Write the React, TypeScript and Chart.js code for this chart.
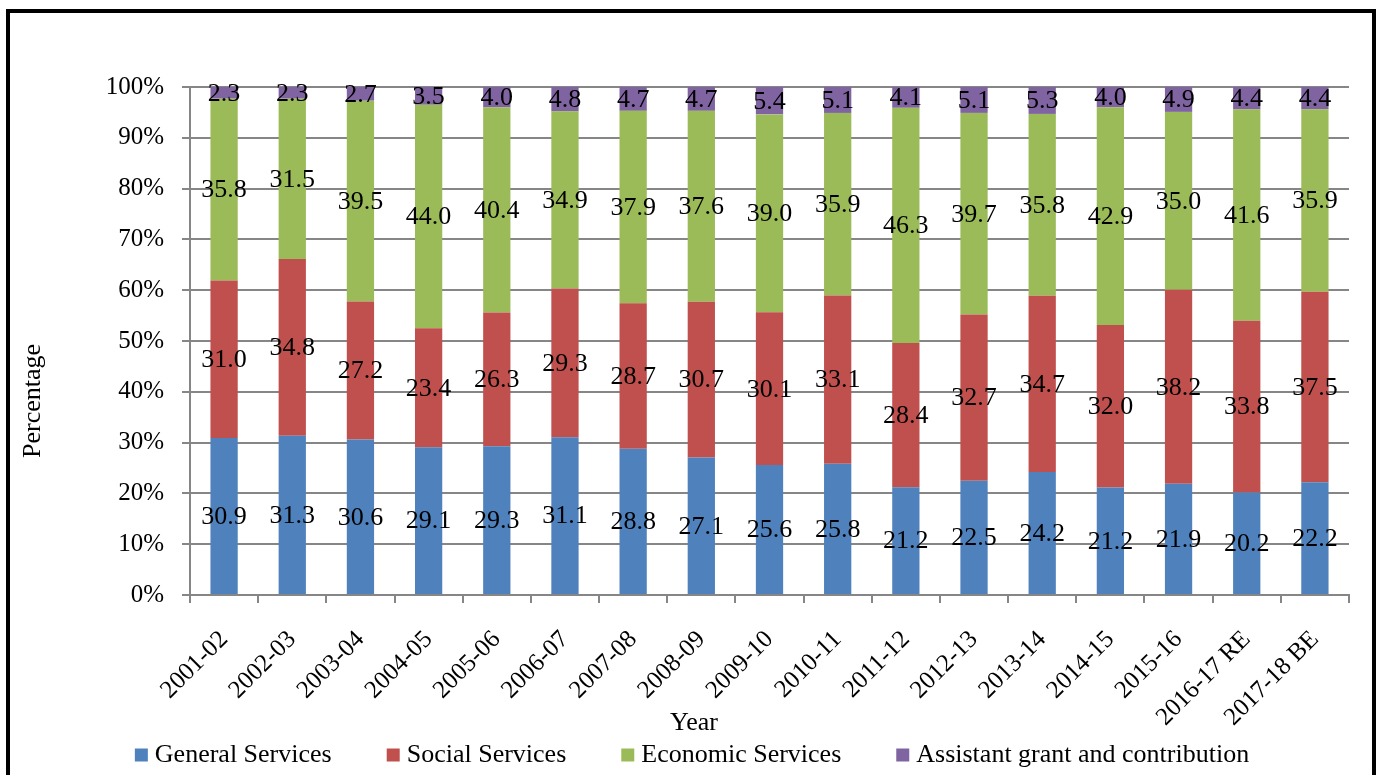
import React, { useEffect, useRef } from "react";
import { Chart, registerables } from "chart.js";

Chart.register(...registerables);

const years = [
  "2001-02", "2002-03", "2003-04", "2004-05", "2005-06", "2006-07", "2007-08", "2008-09", "2009-10",
  "2010-11", "2011-12", "2012-13", "2013-14", "2014-15", "2015-16", "2016-17 RE", "2017-18 BE",
];
const generalServices = [30.9, 31.3, 30.6, 29.1, 29.3, 31.1, 28.8, 27.1, 25.6, 25.8, 21.2, 22.5, 24.2, 21.2, 21.9, 20.2, 22.2];
const socialServices = [31.0, 34.8, 27.2, 23.4, 26.3, 29.3, 28.7, 30.7, 30.1, 33.1, 28.4, 32.7, 34.7, 32.0, 38.2, 33.8, 37.5];
const economicServices = [35.8, 31.5, 39.5, 44.0, 40.4, 34.9, 37.9, 37.6, 39.0, 35.9, 46.3, 39.7, 35.8, 42.9, 35.0, 41.6, 35.9];
const assistantGrant = [2.3, 2.3, 2.7, 3.5, 4.0, 4.8, 4.7, 4.7, 5.4, 5.1, 4.1, 5.1, 5.3, 4.0, 4.9, 4.4, 4.4];
const seriesNames = ["General Services", "Social Services", "Economic Services", "Assistant grant and contribution"];
const seriesColors = ["#4F81BD", "#C0504D", "#9BBB59", "#8064A2"];
const yTickValues = [0, 10, 20, 30, 40, 50, 60, 70, 80, 90, 100];

const SERIF = '"Liberation Serif", "Times New Roman", serif';

export default function App() {
  const canvasRef = useRef<HTMLCanvasElement | null>(null);

  useEffect(() => {
    const raw = [generalServices, socialServices, economicServices, assistantGrant];
    const totals = years.map((_, j) => raw.reduce((s, arr) => s + arr[j], 0));
    const datasets = raw.map((arr, i) => ({
      label: seriesNames[i],
      data: arr.map((v, j) => (v / totals[j]) * 100),
      backgroundColor: seriesColors[i],
      borderWidth: 0,
      categoryPercentage: 1,
      barPercentage: 0.4,
    }));

    const overlay = {
      id: "overlay",
      afterDatasetsDraw(chart: any) {
        const ctx = chart.ctx as CanvasRenderingContext2D;
        ctx.save();
        ctx.font = `26px ${SERIF}`;
        ctx.fillStyle = "#000";
        ctx.textAlign = "center";
        ctx.textBaseline = "middle";
        chart.data.datasets.forEach((_: any, i: number) => {
          const meta = chart.getDatasetMeta(i);
          meta.data.forEach((bar: any, j: number) => {
            const p = bar.getProps(["x", "y", "base"], true);
            ctx.fillText(raw[i][j].toFixed(1), p.x, (p.y + p.base) / 2 + 1);
          });
        });
        ctx.restore();
      },
      afterDraw(chart: any) {
        const ctx = chart.ctx as CanvasRenderingContext2D;
        ctx.save();
        ctx.fillStyle = "#000";
        ctx.font = `26px ${SERIF}`;
        // y title
        ctx.save();
        ctx.translate(33, 401);
        ctx.rotate(-Math.PI / 2);
        ctx.textAlign = "center";
        ctx.textBaseline = "middle";
        ctx.fillText("Percentage", 0, 0);
        ctx.restore();
        // x title
        ctx.textAlign = "center";
        ctx.textBaseline = "middle";
        ctx.fillText("Year", 694, 723);
        // legend
        const box = 13;
        const gapBox = 7;
        const gapItem = 55;
        const widths = seriesNames.map((n) => ctx.measureText(n).width);
        const total = widths.reduce((s, w) => s + w + box + gapBox, 0) + gapItem * (seriesNames.length - 1);
        let x = 692 - total / 2;
        const cy = 755;
        ctx.textAlign = "left";
        seriesNames.forEach((n, i) => {
          ctx.fillStyle = seriesColors[i];
          ctx.fillRect(x, cy - box / 2, box, box);
          ctx.fillStyle = "#000";
          ctx.fillText(n, x + box + gapBox, cy);
          x += box + gapBox + widths[i] + gapItem;
        });
        ctx.restore();
      },
    };

    const chart = new Chart(canvasRef.current as HTMLCanvasElement, {
      type: "bar",
      data: { labels: years, datasets },
      plugins: [overlay],
      options: {
        animation: false,
        responsive: false,
        maintainAspectRatio: false,
        layout: { padding: { top: 87, right: 28, bottom: 0, left: 0 } },
        plugins: {
          legend: { display: false },
          tooltip: { enabled: false },
        },
        scales: {
          x: {
            stacked: true,
            offset: true,
            grid: {
              display: true,
              drawOnChartArea: false,
              drawTicks: true,
              tickLength: 8,
              color: "#868686",
              lineWidth: 2,
              offset: true,
            },
            border: { color: "#868686", width: 2 },
            ticks: {
              autoSkip: false,
              maxRotation: 45,
              minRotation: 45,
              color: "#000",
              padding: 22,
              font: { family: SERIF, size: 25 },
            },
            afterFit: (scale: any) => {
              scale.height = 180;
            },
          },
          y: {
            stacked: true,
            min: 0,
            max: 100,
            afterBuildTicks: (scale: any) => {
              scale.ticks = yTickValues.map((v) => ({ value: v }));
            },
            grid: {
              color: "#868686",
              lineWidth: 2,
              drawTicks: true,
              tickLength: 8,
            },
            border: { color: "#868686", width: 2 },
            ticks: {
              color: "#000",
              padding: 18,
              font: { family: SERIF, size: 25 },
              callback: (v: any) => `${v}%`,
            },
            afterFit: (scale: any) => {
              scale.width = 190;
            },
          },
        },
      },
    } as any);
    return () => chart.destroy();
  }, []);

  return (
    <div style={{ position: "fixed", left: 0, top: 0, width: 1377, height: 775, overflow: "hidden", background: "#fff" }}>
      <canvas ref={canvasRef} width={1377} height={775} style={{ position: "absolute", left: 0, top: 0, width: 1377, height: 775 }} />
      <div
        style={{
          position: "absolute",
          left: 6,
          top: 9,
          width: 1370,
          height: 900,
          border: "4px solid #000",
          boxSizing: "border-box",
          pointerEvents: "none",
        }}
      />
    </div>
  );
}
